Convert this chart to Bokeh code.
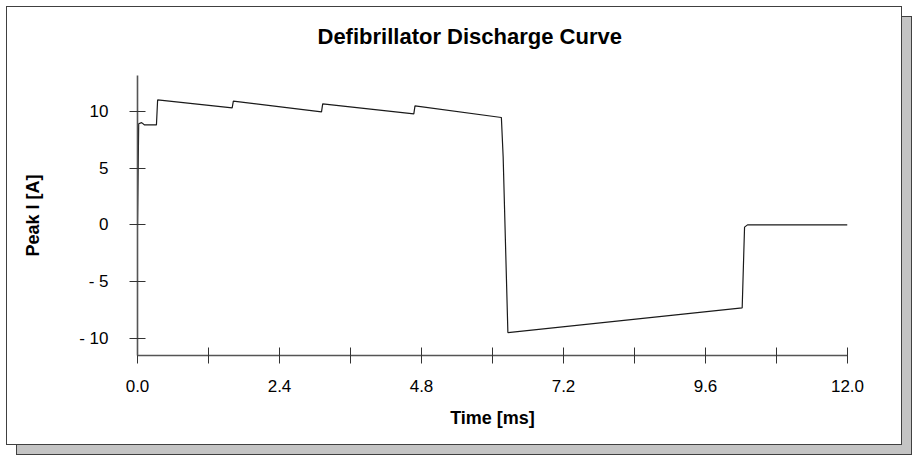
from bokeh.plotting import figure
from bokeh.models import Range1d, FixedTicker, Title
from bokeh.embed import file_html
from bokeh.resources import INLINE

# Discharge curve (time in ms, current in A)
time_ms = [0.0, 0.02, 0.07, 0.12, 0.32, 0.34, 1.60, 1.62, 3.11, 3.13,
           4.67, 4.69, 6.15, 6.18, 6.26, 10.22, 10.26, 10.31, 12.0]
current_a = [0.0, 8.9, 9.0, 8.8, 8.8, 11.0, 10.3, 10.9, 9.95, 10.65,
             9.77, 10.48, 9.45, 6.0, -9.48, -7.3, -0.2, 0.0, 0.0]

x_ticks = [0.0, 2.4, 4.8, 7.2, 9.6, 12.0]
x_tick_labels = ["0.0", "2.4", "4.8", "7.2", "9.6", "12.0"]
x_minor_ticks = [1.2, 3.6, 6.0, 8.4, 10.8]
y_ticks = [-10, -5, 0, 5, 10]
y_tick_labels = ["- 10", "- 5", "0", "5", "10"]

FONT = "Liberation Sans"

p = figure(width=896, height=439, output_backend="svg", toolbar_location=None,
           x_range=Range1d(0, 12), y_range=Range1d(-11.5, 13.15),
           title="Defibrillator Discharge Curve",
           min_border_left=130, min_border_right=56,
           min_border_top=68, min_border_bottom=91)

p.styles = {"border": "1px solid #404040",
            "margin": "6px 0 0 6px",
            "box-shadow": "10px 10px 0 -1px #c4c4c4, 10px 10px 0 0 #404040"}

p.line(time_ms, current_a, line_color="#1a1a1a", line_width=1.2)

p.title.text_font = FONT
p.title.text_font_size = "22px"
p.title.text_font_style = "bold"
p.title.text_color = "#000000"
p.title.align = "left"
p.title.offset = 180
p.title.vertical_align = "top"
p.title.standoff = 33

# thin spacer between the frame and the title
spacer = Title(text=" ", text_font_size="1px", standoff=5)
p.above = [spacer] + list(p.above)

p.xgrid.visible = False
p.ygrid.visible = False
p.outline_line_color = None
p.background_fill_color = "white"
p.border_fill_color = "white"

p.xaxis.ticker = FixedTicker(ticks=x_ticks, minor_ticks=x_minor_ticks)
p.xaxis.major_label_overrides = {t: s for t, s in zip(x_ticks, x_tick_labels)}
p.yaxis.ticker = FixedTicker(ticks=y_ticks)
p.yaxis.major_label_overrides = {t: s for t, s in zip(y_ticks, y_tick_labels)}

for ax in (p.xaxis, p.yaxis):
    ax.axis_line_color = "#555555"
    ax.axis_line_width = 1.6
    ax.major_tick_line_color = "#333333"
    ax.major_tick_in = 8
    ax.major_tick_out = 8
    ax.minor_tick_line_color = "#333333"
    ax.minor_tick_in = 8
    ax.minor_tick_out = 8
    ax.major_label_text_font = FONT
    ax.major_label_text_font_size = "17px"
    ax.major_label_text_color = "#000000"
    ax.axis_label_text_font = FONT
    ax.axis_label_text_font_size = "18px"
    ax.axis_label_text_font_style = "bold"
    ax.axis_label_text_color = "#000000"

p.xaxis.axis_label = "Time [ms]"
p.yaxis.axis_label = "Peak I [A]"
p.xaxis.major_label_standoff = 16
p.yaxis.major_label_standoff = 21
p.xaxis.axis_label_standoff = 13
p.yaxis.axis_label_standoff = 33

open("out.html", "w").write(file_html(p, INLINE))
